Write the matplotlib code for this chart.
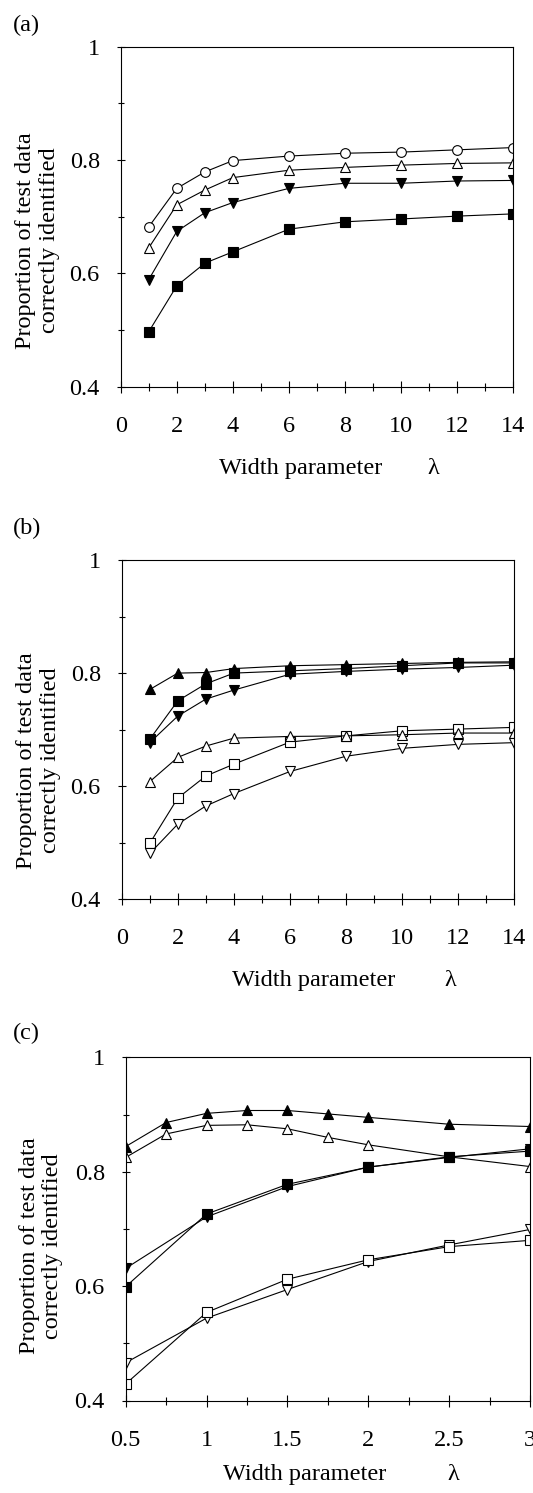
import matplotlib
matplotlib.use("Agg")
import matplotlib.pyplot as plt
from matplotlib.ticker import MultipleLocator, FuncFormatter

plt.rcParams['font.family'] = ['Liberation Serif', 'DejaVu Serif']
plt.rcParams['font.size'] = 17.5

# ---- data ----
lam_ab = [1, 2, 3, 4, 6, 8, 10, 12, 14]

a_circle = [0.682, 0.750, 0.779, 0.799, 0.807, 0.812, 0.814, 0.818, 0.822]
a_tri_open = [0.645, 0.721, 0.747, 0.769, 0.782, 0.787, 0.791, 0.794, 0.795]
a_tri_down = [0.589, 0.674, 0.707, 0.725, 0.750, 0.759, 0.759, 0.763, 0.764]
a_square = [0.497, 0.578, 0.618, 0.638, 0.678, 0.691, 0.696, 0.701, 0.705]

b_tri_up = [0.771, 0.800, 0.801, 0.808, 0.813, 0.815, 0.817, 0.819, 0.820]
b_square = [0.683, 0.751, 0.781, 0.800, 0.804, 0.808, 0.813, 0.818, 0.818]
b_tri_down = [0.677, 0.724, 0.754, 0.770, 0.798, 0.803, 0.807, 0.810, 0.814]
b_tri_open = [0.608, 0.651, 0.671, 0.685, 0.688, 0.689, 0.691, 0.694, 0.694]
b_sq_open = [0.499, 0.579, 0.618, 0.639, 0.678, 0.689, 0.698, 0.701, 0.704]
b_tdown_open = [0.481, 0.533, 0.565, 0.587, 0.626, 0.653, 0.667, 0.674, 0.677]

lam_c1 = [0.5, 0.75, 1, 1.25, 1.5, 1.75, 2, 2.5, 3]
lam_c2 = [0.5, 1, 1.5, 2, 2.5, 3]

c_tri_up = [0.844, 0.886, 0.902, 0.907, 0.907, 0.901, 0.895, 0.883, 0.879]
c_tri_open = [0.825, 0.866, 0.881, 0.882, 0.875, 0.860, 0.847, 0.826, 0.809]
c_square = [0.599, 0.726, 0.778, 0.808, 0.826, 0.836]
c_tri_down = [0.631, 0.721, 0.774, 0.808, 0.825, 0.840]
c_tdown_open = [0.466, 0.544, 0.594, 0.643, 0.672, 0.699]
c_sq_open = [0.429, 0.554, 0.612, 0.646, 0.669, 0.680]

FILLED = dict(color='black', mfc='black', mec='black')
OPEN = dict(color='black', mfc='white', mec='black')


def series(ax, x, y, marker, style, ms):
    ax.plot(x, y, marker=marker, ms=ms, lw=0.8, mew=0.8, **style)


def fmt(v, pos):
    return ('%g' % v)


fig = plt.figure(figsize=(5.33, 14.93), dpi=100)

W, H = 533.0, 1493.0


def make_axes(left, right, top, bottom):
    return fig.add_axes([left / W, 1 - bottom / H, (right - left) / W, (bottom - top) / H])


ax_a = make_axes(120.7, 513.3, 46.7, 386.7)
ax_b = make_axes(121.7, 514.3, 560.0, 899.3)
ax_c = make_axes(125.7, 530.0, 1057.3, 1400.5)

# (a)
series(ax_a, lam_ab, a_circle, 'o', OPEN, 7)
series(ax_a, lam_ab, a_tri_open, '^', OPEN, 7)
series(ax_a, lam_ab, a_tri_down, 'v', FILLED, 7)
series(ax_a, lam_ab, a_square, 's', FILLED, 6.5)

# (b)
series(ax_b, lam_ab, b_sq_open, 's', OPEN, 6.5)
series(ax_b, lam_ab, b_tri_open, '^', OPEN, 7)
series(ax_b, lam_ab, b_tdown_open, 'v', OPEN, 7)
series(ax_b, lam_ab, b_tri_down, 'v', FILLED, 7)
series(ax_b, lam_ab, b_square, 's', FILLED, 6.5)
series(ax_b, lam_ab, b_tri_up, '^', FILLED, 7)

# (c)
series(ax_c, lam_c1, c_tri_open, '^', OPEN, 7)
series(ax_c, lam_c1, c_tri_up, '^', FILLED, 7)
series(ax_c, lam_c2, c_tri_down, 'v', FILLED, 7)
series(ax_c, lam_c2, c_square, 's', FILLED, 6.5)
series(ax_c, lam_c2, c_tdown_open, 'v', OPEN, 7)
series(ax_c, lam_c2, c_sq_open, 's', OPEN, 6.5)

settings = [
    (ax_a, (0, 14), 2, 1, '(a)', 25, 0.459, 0.795, -0.24, 0.43),
    (ax_b, (0, 14), 2, 1, '(b)', 528, 0.49, 0.836, -0.24, 0.41),
    (ax_c, (0.5, 3), 0.5, 0.25, '(c)', 1033, 0.443, 0.81, -0.215, 0.45),
]

for ax, xl, xmaj, xmin, tag, tag_y, xl_x, lam_x, xl_y, yl_y in settings:
    ax.set_xlim(*xl)
    ax.set_ylim(0.4, 1.0)
    ax.xaxis.set_major_locator(MultipleLocator(xmaj))
    ax.xaxis.set_minor_locator(MultipleLocator(xmin))
    ax.yaxis.set_major_locator(MultipleLocator(0.2))
    ax.yaxis.set_minor_locator(MultipleLocator(0.1))
    ax.xaxis.set_major_formatter(FuncFormatter(fmt))
    ax.yaxis.set_major_formatter(FuncFormatter(fmt))
    ax.tick_params(axis='x', which='major', direction='inout', length=8, width=0.8, pad=17)
    ax.tick_params(axis='x', which='minor', direction='inout', length=6, width=0.8)
    ax.tick_params(axis='y', which='major', direction='inout', length=6, width=0.8, pad=12)
    ax.tick_params(axis='y', which='minor', direction='inout', length=4, width=0.8)
    for s in ax.spines.values():
        s.set_linewidth(0.8)
    ax.set_ylabel('Proportion of test data\ncorrectly identified', linespacing=1.15)
    ax.yaxis.set_label_coords(-0.155, yl_y)
    ax.text(xl_x, xl_y, 'Width parameter', transform=ax.transAxes,
            ha='center', va='center')
    ax.text(lam_x, xl_y, 'λ', transform=ax.transAxes, ha='center', va='center')
    fig.text(13 / W, 1 - tag_y / H, tag, ha='left', va='center')

fig.savefig('out.png', dpi=100)
